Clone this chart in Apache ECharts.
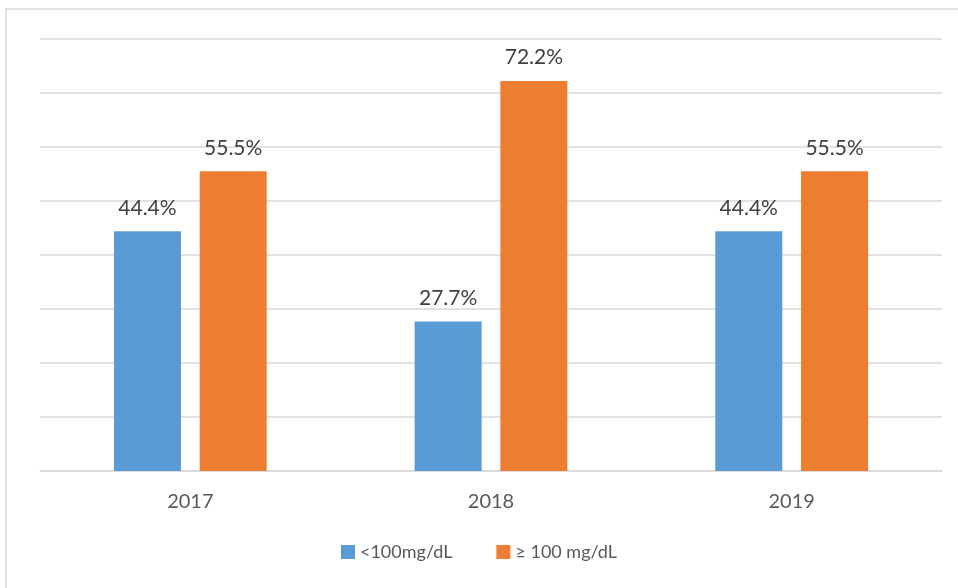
<!DOCTYPE html>
<html>
<head>
<meta charset="utf-8">
<script src="https://cdn.jsdelivr.net/npm/echarts@6/dist/echarts.min.js"></script>
<style>
  html, body { margin: 0; padding: 0; background: #ffffff; }
  #chart { width: 958px; height: 588px; }
</style>
</head>
<body>
<div id="chart"></div>
<script>
// Years shown along the x axis
const years = ['2017', '2018', '2019'];
// Share of readings below 100 mg/dL (%)
const below100 = [44.4, 27.7, 44.4];
// Share of readings at or above 100 mg/dL (%)
const atOrAbove100 = [55.5, 72.2, 55.5];
// Series names for the legend
const seriesNames = ['<100mg/dL', '≥ 100 mg/dL'];

const font = 'Lato, "Open Sans", "Noto Sans", sans-serif';

const chart = echarts.init(document.getElementById('chart'), null, { renderer: 'canvas' });

const labelStyle = {
  show: true,
  position: 'top',
  distance: 13,
  fontFamily: font,
  fontSize: 21,
  color: '#404040',
  formatter: p => p.value.toFixed(1) + '%'
};

chart.setOption({
  backgroundColor: '#ffffff',
  animation: false,
  graphic: [{
    type: 'rect',
    shape: { x: 6, y: 9, width: 1000, height: 700 },
    style: { fill: 'none', stroke: '#d9d9d9', lineWidth: 1.5 },
    silent: true,
    z: -10
  }],
  legend: {
    bottom: 22,
    left: 'center',
    itemWidth: 14,
    itemHeight: 14,
    itemGap: 44,
    icon: 'rect',
    textStyle: { fontFamily: font, fontSize: 18, color: '#595959' },
    data: seriesNames
  },
  grid: { left: 40, right: 16, top: 39, bottom: 117, containLabel: false },
  xAxis: {
    type: 'category',
    data: years,
    axisLine: { show: true, lineStyle: { color: '#d9d9d9', width: 1.5 } },
    axisTick: { show: false },
    axisLabel: { fontFamily: font, fontSize: 20, color: '#595959', margin: 21 }
  },
  yAxis: {
    type: 'value',
    min: 0,
    max: 80,
    interval: 10,
    axisLine: { show: false },
    axisTick: { show: false },
    axisLabel: { show: false },
    splitLine: { lineStyle: { color: '#d9d9d9', width: 1.5 } }
  },
  series: [
    {
      name: seriesNames[0],
      type: 'bar',
      data: below100,
      barWidth: 67,
      barGap: '28%',
      itemStyle: { color: '#5b9bd5' },
      label: labelStyle
    },
    {
      name: seriesNames[1],
      type: 'bar',
      data: atOrAbove100,
      barWidth: 67,
      barGap: '28%',
      itemStyle: { color: '#ed7d31' },
      label: labelStyle
    }
  ]
});
</script>
</body>
</html>
